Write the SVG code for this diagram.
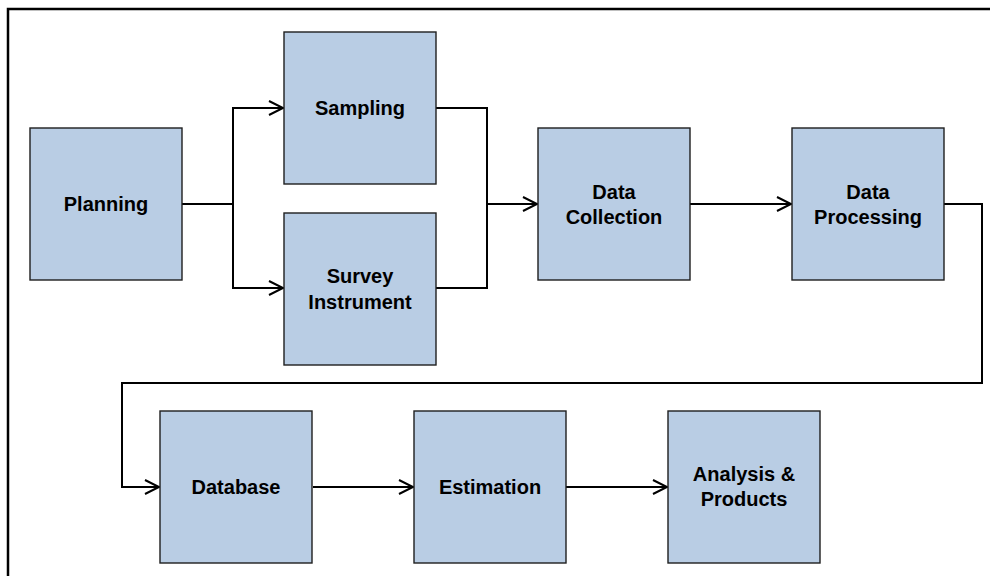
<svg xmlns="http://www.w3.org/2000/svg" width="990" height="576" viewBox="0 0 990 576">
  <style>
    .box { fill: #b9cde4; stroke: #1f1f1f; stroke-width: 1.4; }
    .lbl { font-family: "Liberation Sans", Arial, sans-serif; font-weight: bold; font-size: 20px; fill: #000; text-anchor: middle; }
    .wire { fill: none; stroke: #000; stroke-width: 2; }
    .frame { fill: none; stroke: #000; stroke-width: 2.5; }
  </style>
  <defs>
    <marker id="open" markerWidth="18" markerHeight="18" refX="15" refY="8" orient="auto" markerUnits="userSpaceOnUse">
      <path d="M1,1 L15,8 L1,15" fill="none" stroke="#000" stroke-width="2"/>
    </marker>
  </defs>
  <rect width="990" height="576" fill="#fff"/>
  <path class="frame" d="M8,578 V9 H992"/>

  <g id="connectors">
    <path class="wire" d="M182,204 H233"/>
    <path class="wire" d="M233,204 V108 H283" marker-end="url(#open)"/>
    <path class="wire" d="M233,204 V288 H283" marker-end="url(#open)"/>
    <path class="wire" d="M436,108 H487 V288 H436"/>
    <path class="wire" d="M487,204 H537" marker-end="url(#open)"/>
    <path class="wire" d="M690,204 H791" marker-end="url(#open)"/>
    <path class="wire" d="M944,204 H982 V383 H122 V487 H159" marker-end="url(#open)"/>
    <path class="wire" d="M313,487 H413" marker-end="url(#open)"/>
    <path class="wire" d="M566,487 H667" marker-end="url(#open)"/>
  </g>

  <g id="planning">
    <rect class="box" x="30" y="128" width="152" height="152"/>
    <text class="lbl" x="106" y="211">Planning</text>
  </g>
  <g id="sampling">
    <rect class="box" x="284" y="32" width="152" height="152"/>
    <text class="lbl" x="360" y="115">Sampling</text>
  </g>
  <g id="survey-instrument">
    <rect class="box" x="284" y="213" width="152" height="152"/>
    <text class="lbl" x="360" y="283">Survey</text>
    <text class="lbl" x="360" y="309">Instrument</text>
  </g>
  <g id="data-collection">
    <rect class="box" x="538" y="128" width="152" height="152"/>
    <text class="lbl" x="614" y="199">Data</text>
    <text class="lbl" x="614" y="224">Collection</text>
  </g>
  <g id="data-processing">
    <rect class="box" x="792" y="128" width="152" height="152"/>
    <text class="lbl" x="868" y="199">Data</text>
    <text class="lbl" x="868" y="224">Processing</text>
  </g>
  <g id="database">
    <rect class="box" x="160" y="411" width="152" height="152"/>
    <text class="lbl" x="236" y="494">Database</text>
  </g>
  <g id="estimation">
    <rect class="box" x="414" y="411" width="152" height="152"/>
    <text class="lbl" x="490" y="494">Estimation</text>
  </g>
  <g id="analysis-products">
    <rect class="box" x="668" y="411" width="152" height="152"/>
    <text class="lbl" x="744" y="481">Analysis &amp;</text>
    <text class="lbl" x="744" y="506">Products</text>
  </g>
</svg>
